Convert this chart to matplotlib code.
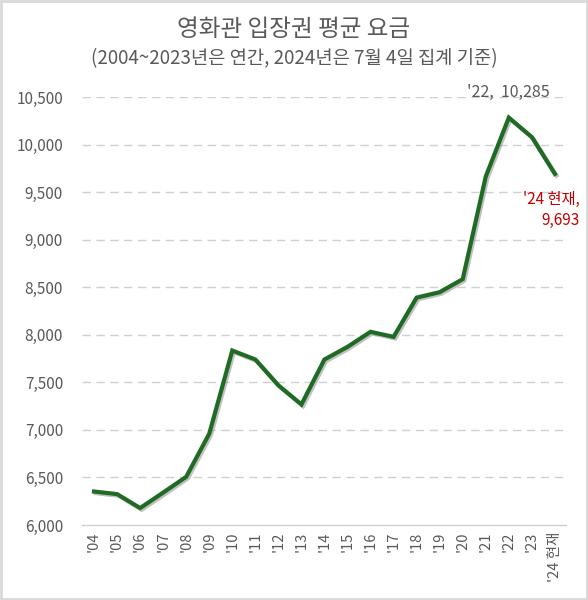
import matplotlib
matplotlib.use("Agg")
import matplotlib.pyplot as plt
import matplotlib.patheffects as pe
from matplotlib.patches import Rectangle

plt.rcParams['font.family'] = ['Noto Sans CJK KR', 'DejaVu Sans']

years = ["'04", "'05", "'06", "'07", "'08", "'09", "'10", "'11", "'12", "'13",
         "'14", "'15", "'16", "'17", "'18", "'19", "'20", "'21", "'22", "'23", "'24 현재"]
prices = [6352, 6325, 6178, 6341, 6507, 6960, 7835, 7741, 7469, 7268,
          7741, 7874, 8032, 7979, 8392, 8449, 8586, 9666, 10285, 10080, 9693]
yticks = [6000, 6500, 7000, 7500, 8000, 8500, 9000, 9500, 10000, 10500]

title = "영화관 입장권 평균 요금"
subtitle = "(2004~2023년은 연간, 2024년은 7월 4일 집계 기준)"

gray = "#595959"
fig = plt.figure(figsize=(5.88, 6.0), dpi=100)
fig.patches.append(Rectangle((0.002, 0.002), 0.996, 0.996, transform=fig.transFigure,
                             fill=False, edgecolor="#d9d9d9", linewidth=2))
ax = fig.add_axes([0.1403, 0.125, 0.823, 0.713])

x = list(range(len(years)))
ax.plot(x, prices, color="#1f6b24", linewidth=3.0, solid_joinstyle='miter',
        path_effects=[pe.SimpleLineShadow(offset=(1.2, -1.2), shadow_color='#999999', alpha=0.6),
                      pe.Normal()], zorder=3)

ax.set_xlim(-0.5, len(years) - 0.5)
ax.set_ylim(6000, 10500)
ax.set_yticks(yticks)
ax.set_yticklabels([f"{v:,}" for v in yticks], color=gray, fontsize=11)
ax.set_xticks(x)
ax.set_xticklabels(years, rotation=90, color=gray, fontsize=10.5, va='top')
ax.tick_params(axis='x', length=0, pad=5)
ax.tick_params(axis='y', length=0, pad=14)

for v in yticks[1:]:
    ax.axhline(v, color="#d0d0d0", linewidth=1, linestyle=(0, (6, 4)), zorder=1)
for s in ['top', 'right', 'left']:
    ax.spines[s].set_visible(False)
ax.spines['bottom'].set_color("#d0d0d0")
ax.spines['bottom'].set_linewidth(1)

i22 = years.index("'22")
ax.annotate(f"'22,  {prices[i22]:,}", (x[i22], prices[i22]), xytext=(0, 12),
            textcoords='offset points', ha='center', va='bottom', color=gray, fontsize=11.5)
ax.annotate(f"'24 현재,\n{prices[-1]:,}", (x[-1], prices[-1]), xytext=(18, -12),
            textcoords='offset points', ha='right', va='top', color="#c00000", fontsize=11,
            linespacing=1.35)

fig.text(0.5, 0.951, title, ha='center', va='center', fontsize=17, color=gray)
fig.text(0.5, 0.903, subtitle, ha='center', va='center', fontsize=13.5, color=gray)

fig.savefig("out.png", dpi=100)
